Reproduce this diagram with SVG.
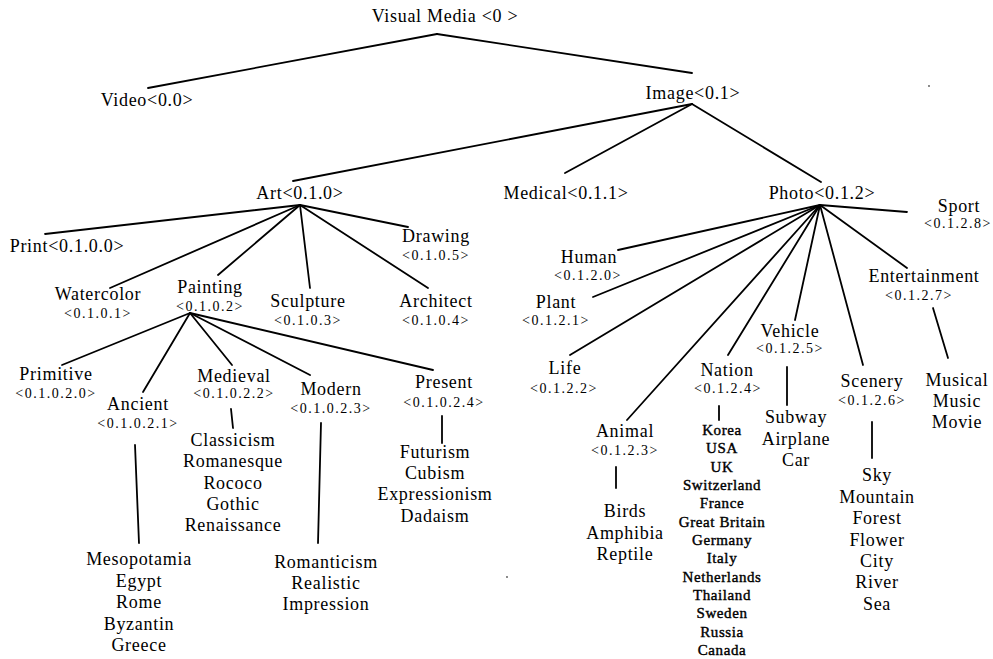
<svg xmlns="http://www.w3.org/2000/svg" width="993" height="659" viewBox="0 0 993 659">
<style>
text{font-family:"Liberation Serif","Times New Roman",serif;fill:#000;text-anchor:middle}
.m{font-size:18px;letter-spacing:0.7px}
.c{font-size:14px;letter-spacing:1.5px}
.n{font-size:15px;letter-spacing:0.6px;stroke:#000;stroke-width:0.4}
#edges line{stroke:#000;stroke-width:1.8;stroke-linecap:round}
</style>
<rect width="993" height="659" fill="#fff"/>
<g id="edges">
<line x1="437" y1="34" x2="148" y2="88"/>
<line x1="437" y1="34" x2="692" y2="73"/>
<line x1="692" y1="104" x2="293" y2="181"/>
<line x1="692" y1="104" x2="565" y2="173"/>
<line x1="692" y1="104" x2="821" y2="182"/>
<line x1="300" y1="205" x2="45" y2="234"/>
<line x1="300" y1="205" x2="110" y2="288"/>
<line x1="300" y1="205" x2="218" y2="275"/>
<line x1="300" y1="205" x2="310" y2="288"/>
<line x1="300" y1="205" x2="428" y2="288"/>
<line x1="300" y1="205" x2="408" y2="227"/>
<line x1="190" y1="313" x2="62" y2="365"/>
<line x1="190" y1="313" x2="143" y2="392"/>
<line x1="190" y1="313" x2="232" y2="365"/>
<line x1="190" y1="313" x2="310" y2="375"/>
<line x1="190" y1="313" x2="433" y2="370"/>
<line x1="135" y1="445" x2="139" y2="543"/>
<line x1="231" y1="409" x2="233" y2="428"/>
<line x1="321" y1="423" x2="318" y2="543"/>
<line x1="442" y1="416" x2="442" y2="443"/>
<line x1="820" y1="205" x2="618" y2="250"/>
<line x1="820" y1="205" x2="593" y2="297"/>
<line x1="820" y1="205" x2="570" y2="355"/>
<line x1="820" y1="205" x2="627" y2="420"/>
<line x1="820" y1="205" x2="728" y2="355"/>
<line x1="820" y1="205" x2="795" y2="320"/>
<line x1="820" y1="205" x2="863" y2="365"/>
<line x1="820" y1="205" x2="907" y2="268"/>
<line x1="820" y1="205" x2="907" y2="212"/>
<line x1="616" y1="467" x2="616" y2="488"/>
<line x1="719" y1="406" x2="719" y2="420"/>
<line x1="787" y1="367" x2="787" y2="405"/>
<line x1="872" y1="422" x2="872" y2="458"/>
<line x1="933" y1="308" x2="948" y2="358"/>
</g>
<g id="visual-media"><text class="m" x="445" y="22">Visual Media &lt;0 &gt;</text></g>
<g id="video"><text class="m" x="147" y="106">Video&lt;0.0&gt;</text></g>
<g id="image"><text class="m" x="693" y="99">Image&lt;0.1&gt;</text></g>
<g id="art"><text class="m" x="300" y="199">Art&lt;0.1.0&gt;</text></g>
<g id="medical"><text class="m" x="566" y="199">Medical&lt;0.1.1&gt;</text></g>
<g id="photo"><text class="m" x="822" y="199">Photo&lt;0.1.2&gt;</text></g>
<g id="print"><text class="m" x="67" y="252">Print&lt;0.1.0.0&gt;</text></g>
<g id="watercolor"><text class="m" x="98" y="300">Watercolor</text><text class="c" x="98" y="318">&lt;0.1.0.1&gt;</text></g>
<g id="painting"><text class="m" x="210" y="293">Painting</text><text class="c" x="210" y="311">&lt;0.1.0.2&gt;</text></g>
<g id="sculpture"><text class="m" x="308" y="307">Sculpture</text><text class="c" x="308" y="325">&lt;0.1.0.3&gt;</text></g>
<g id="architect"><text class="m" x="436" y="307">Architect</text><text class="c" x="436" y="325">&lt;0.1.0.4&gt;</text></g>
<g id="drawing"><text class="m" x="436" y="242">Drawing</text><text class="c" x="436" y="260">&lt;0.1.0.5&gt;</text></g>
<g id="primitive"><text class="m" x="56" y="380">Primitive</text><text class="c" x="56" y="398">&lt;0.1.0.2.0&gt;</text></g>
<g id="ancient"><text class="m" x="138" y="410">Ancient</text><text class="c" x="138" y="428">&lt;0.1.0.2.1&gt;</text></g>
<g id="medieval"><text class="m" x="234" y="382">Medieval</text><text class="c" x="234" y="398">&lt;0.1.0.2.2&gt;</text></g>
<g id="modern"><text class="m" x="331" y="395">Modern</text><text class="c" x="331" y="413">&lt;0.1.0.2.3&gt;</text></g>
<g id="present"><text class="m" x="444" y="388">Present</text><text class="c" x="444" y="407">&lt;0.1.0.2.4&gt;</text></g>
<g id="ancient-list">
<text class="m" x="139" y="565">Mesopotamia</text><text class="m" x="139" y="587">Egypt</text><text class="m" x="139" y="608">Rome</text><text class="m" x="139" y="630">Byzantin</text><text class="m" x="139" y="651">Greece</text>
</g>
<g id="medieval-list">
<text class="m" x="233" y="446">Classicism</text><text class="m" x="233" y="467">Romanesque</text><text class="m" x="233" y="489">Rococo</text><text class="m" x="233" y="510">Gothic</text><text class="m" x="233" y="531">Renaissance</text>
</g>
<g id="modern-list">
<text class="m" x="326" y="568">Romanticism</text><text class="m" x="326" y="589">Realistic</text><text class="m" x="326" y="610">Impression</text>
</g>
<g id="present-list">
<text class="m" x="435" y="458">Futurism</text><text class="m" x="435" y="479">Cubism</text><text class="m" x="435" y="500">Expressionism</text><text class="m" x="435" y="522">Dadaism</text>
</g>
<g id="human"><text class="m" x="589" y="263">Human</text><text class="c" x="588" y="280">&lt;0.1.2.0&gt;</text></g>
<g id="plant"><text class="m" x="556" y="308">Plant</text><text class="c" x="556" y="325">&lt;0.1.2.1&gt;</text></g>
<g id="life"><text class="m" x="565" y="374">Life</text><text class="c" x="564" y="393">&lt;0.1.2.2&gt;</text></g>
<g id="animal"><text class="m" x="625" y="437">Animal</text><text class="c" x="625" y="455">&lt;0.1.2.3&gt;</text></g>
<g id="animal-list"><text class="m" x="625" y="517">Birds</text><text class="m" x="625" y="539">Amphibia</text><text class="m" x="625" y="560">Reptile</text></g>
<g id="nation"><text class="m" x="727" y="376">Nation</text><text class="c" x="728" y="393">&lt;0.1.2.4&gt;</text></g>
<g id="nation-list">
<text class="n" x="722" y="435">Korea</text><text class="n" x="722" y="453">USA</text><text class="n" x="722" y="472">UK</text><text class="n" x="722" y="490">Switzerland</text><text class="n" x="722" y="508">France</text><text class="n" x="722" y="527">Great Britain</text><text class="n" x="722" y="545">Germany</text><text class="n" x="722" y="563">Italy</text><text class="n" x="722" y="582">Netherlands</text><text class="n" x="722" y="600">Thailand</text><text class="n" x="722" y="618">Sweden</text><text class="n" x="722" y="637">Russia</text><text class="n" x="722" y="655">Canada</text>
</g>
<g id="vehicle"><text class="m" x="790" y="337">Vehicle</text><text class="c" x="790" y="353">&lt;0.1.2.5&gt;</text></g>
<g id="vehicle-list"><text class="m" x="796" y="423">Subway</text><text class="m" x="796" y="445">Airplane</text><text class="m" x="796" y="466">Car</text></g>
<g id="scenery"><text class="m" x="872" y="387">Scenery</text><text class="c" x="872" y="405">&lt;0.1.2.6&gt;</text></g>
<g id="scenery-list">
<text class="m" x="877" y="481">Sky</text><text class="m" x="877" y="503">Mountain</text><text class="m" x="877" y="524">Forest</text><text class="m" x="877" y="546">Flower</text><text class="m" x="877" y="567">City</text><text class="m" x="877" y="588">River</text><text class="m" x="877" y="610">Sea</text>
</g>
<g id="entertainment"><text class="m" x="924" y="282">Entertainment</text><text class="c" x="919" y="300">&lt;0.1.2.7&gt;</text></g>
<g id="entertainment-list"><text class="m" x="957" y="386">Musical</text><text class="m" x="957" y="407">Music</text><text class="m" x="957" y="428">Movie</text></g>
<g id="sport"><text class="m" x="959" y="212">Sport</text><text class="c" x="958" y="228">&lt;0.1.2.8&gt;</text></g>
<circle cx="929" cy="86" r="0.9" fill="#555"/>
<circle cx="507" cy="577" r="0.9" fill="#555"/>
</svg>
